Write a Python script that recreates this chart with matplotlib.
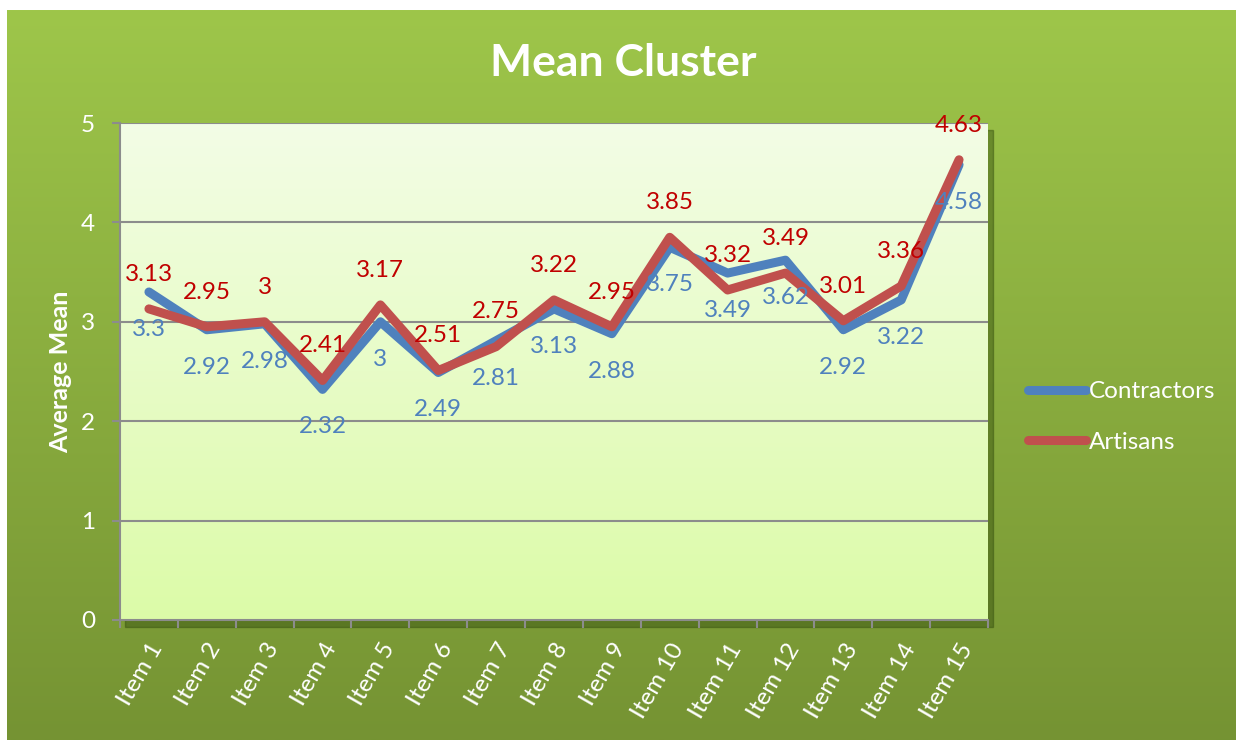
import numpy as np
import matplotlib
matplotlib.use("Agg")
import matplotlib.pyplot as plt
from matplotlib.patches import Rectangle

plt.rcParams['font.family'] = ['Lato', 'DejaVu Sans']

items = ["Item %d" % i for i in range(1, 16)]
contractors = [3.3, 2.92, 2.98, 2.32, 3, 2.49, 2.81, 3.13, 2.88, 3.75, 3.49, 3.62, 2.92, 3.22, 4.58]
artisans = [3.13, 2.95, 3, 2.41, 3.17, 2.51, 2.75, 3.22, 2.95, 3.85, 3.32, 3.49, 3.01, 3.36, 4.63]

W, H = 1236, 740
fig = plt.figure(figsize=(W / 100, H / 100), dpi=100, facecolor="white")

# outer green panel with vertical gradient
bg = fig.add_axes([7 / W, 0, 1 - 7 / W, 1 - 10 / H], zorder=0)
top = np.array([158, 198, 74]) / 255
bot = np.array([117, 147, 51]) / 255
t = np.linspace(0, 1, 256)[:, None]
grad = top[None, :] * (1 - t) + bot[None, :] * t
bg.imshow(grad[:, None, :], aspect="auto", extent=[0, 1, 0, 1])
bg.set_axis_off()

x0, x1, y0, y1 = 120, 988, 123, 620
pos = [x0 / W, 1 - y1 / H, (x1 - x0) / W, (y1 - y0) / H]

# shadow behind the plot area
fig.patches.append(Rectangle((pos[0] + 5 / W, pos[1] - 7 / H), pos[2], pos[3],
                             transform=fig.transFigure, color=(0.2, 0.3, 0.05, 0.45),
                             zorder=1))

ax = fig.add_axes(pos, zorder=2)
x = np.arange(1, 16)
ax.set_xlim(0.5, 15.5)
ax.set_ylim(0, 5)

ptop = np.array([243, 253, 230]) / 255
pbot = np.array([220, 251, 168]) / 255
pgrad = ptop[None, :] * (1 - t) + pbot[None, :] * t
ax.imshow(pgrad[:, None, :], aspect="auto", extent=[0.5, 15.5, 0, 5], zorder=0)

for yv in [1, 2, 3, 4, 5]:
    ax.axhline(yv, color="#8c8c8c", lw=1.5, zorder=1)

blue = "#4F81BD"
red = "#C0504D"
ax.plot(x, contractors, color=blue, lw=6.5, solid_capstyle="round",
        solid_joinstyle="round", label="Contractors", zorder=3)
ax.plot(x, artisans, color=red, lw=6.5, solid_capstyle="round",
        solid_joinstyle="round", label="Artisans", zorder=4)

for xi, v in zip(x, contractors):
    ax.annotate("%g" % v, (xi, v), xytext=(0, -27), textcoords="offset points",
                ha="center", va="center", color=blue, fontsize=17.5, zorder=5)
for xi, v in zip(x, artisans):
    ax.annotate("%g" % v, (xi, v), xytext=(0, 25), textcoords="offset points",
                ha="center", va="center", color="#C00000", fontsize=17.5, zorder=5)

ax.set_yticks([0, 1, 2, 3, 4, 5])
ax.set_xticks(np.arange(0.5, 16, 1))
ax.set_xticklabels([])
ax.set_xticks(x, minor=True)
ax.set_xticklabels(items, minor=True, rotation=60, ha="right",
                   rotation_mode="anchor", color="white", fontsize=17.5)
ax.tick_params(axis="x", which="minor", length=0, pad=14)
ax.tick_params(axis="x", which="major", length=6, width=1.5, color="#8c8c8c")
ax.tick_params(axis="y", length=6, width=1.5, color="#8c8c8c",
               labelcolor="white", labelsize=17.5, pad=12)
for s in ["top", "right"]:
    ax.spines[s].set_visible(False)
for s in ["left", "bottom"]:
    ax.spines[s].set_color("#8c8c8c")
    ax.spines[s].set_linewidth(1.5)

ax.set_ylabel("Average Mean", color="white", fontsize=18, fontweight="bold", labelpad=6)

fig.text(623 / W, 1 - 63 / H, "Mean Cluster", color="white", fontsize=32,
         fontweight="bold", ha="center", va="center")

leg = fig.legend(loc="center left", bbox_to_anchor=(1006 / W, 1 - 417 / H),
                 frameon=False, fontsize=17.5, handlelength=2.4, handletextpad=0.1,
                 labelspacing=1.2)
for txt in leg.get_texts():
    txt.set_color("white")

fig.savefig("out.png", dpi=100, facecolor=fig.get_facecolor())
